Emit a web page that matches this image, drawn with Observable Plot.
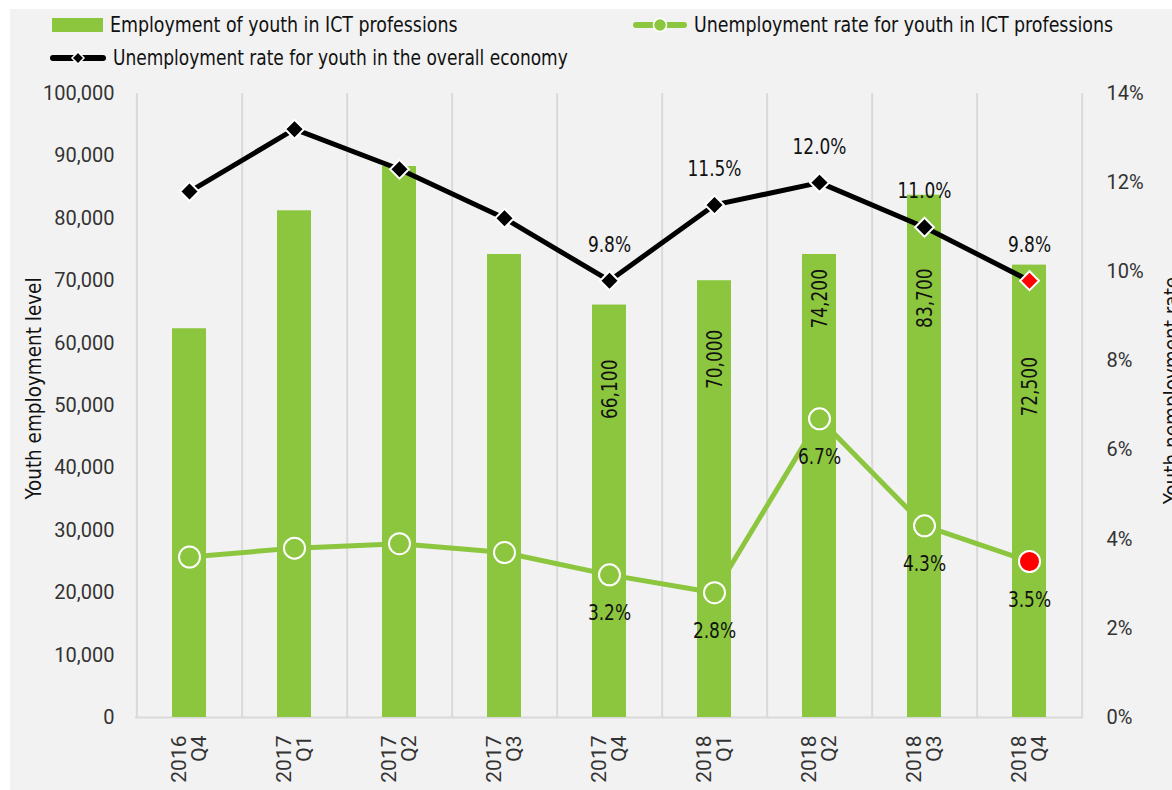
<!DOCTYPE html>
<html><head><meta charset="utf-8">
<script src="https://cdn.jsdelivr.net/npm/d3@7"></script>
<script src="https://cdn.jsdelivr.net/npm/@observablehq/plot@0.6"></script>
<style>
body{margin:0;background:#fff;}
#panel{position:absolute;left:10px;top:9px;width:1162px;height:781px;background:#f2f2f2;overflow:hidden;}
.leg{position:absolute;height:30px;line-height:30px;font-family:"Liberation Sans Narrow","Arial Narrow","DejaVu Sans Condensed",sans-serif;font-size:22px;color:#111;display:flex;align-items:center;white-space:nowrap;}
.leg svg{display:block;margin-right:7px;}
.leg span{display:inline-block;transform:scaleX(0.88);transform-origin:0 50%;}
.leg span.n{transform:scaleX(0.86);}
#chart{position:absolute;left:0;top:75px;}
</style></head><body>
<div id="panel">
  <div class="leg" style="left:42px;top:1px"><svg width="51" height="14"><rect width="51" height="14" fill="#8cc63f"/></svg><span>Employment of youth in ICT professions</span></div>
  <div class="leg" style="left:623px;top:1px"><svg width="54" height="20"><line x1="3" x2="51" y1="10" y2="10" stroke="#8cc63f" stroke-width="6" stroke-linecap="round"/><circle cx="27" cy="10" r="6.5" fill="#8cc63f" stroke="#fff" stroke-width="1.5"/></svg><span>Unemployment rate for youth in ICT professions</span></div>
  <div class="leg" style="left:40px;top:34px"><svg width="56" height="20"><line x1="3" x2="53" y1="10" y2="10" stroke="#000" stroke-width="6" stroke-linecap="round"/><path d="M28,4 L34,10 L28,16 L22,10 Z" fill="#000" stroke="#fff" stroke-width="1.5"/></svg><span class="n">Unemployment rate for youth in the overall economy</span></div>
  <div id="chart"></div>
</div>
<script>
const categories = ["2016 Q4","2017 Q1","2017 Q2","2017 Q3","2017 Q4","2018 Q1","2018 Q2","2018 Q3","2018 Q4"];
const employment = [62300, 81200, 88300, 74200, 66100, 70000, 74200, 83700, 72500];
const ictRate = [3.6, 3.8, 3.9, 3.7, 3.2, 2.8, 6.7, 4.3, 3.5];
const overallRate = [11.8, 13.2, 12.3, 11.2, 9.8, 11.5, 12.0, 11.0, 9.8];
const leftTicks = [0,10000,20000,30000,40000,50000,60000,70000,80000,90000,100000];
const rightTicks = [0,2,4,6,8,10,12,14];
const labelledFrom = 4;

const GREEN = "#8cc63f", RED = "#ff0000", GRID = "#d9d9d9";
const NARROW = "'Liberation Sans Narrow','Arial Narrow','DejaVu Sans Condensed',sans-serif";
const W = 1162, H = 706, mL = 125, mR = 89, mT = 9, mB = 73;
const k = 100000 / 14; // rate -> left axis units
const step = (W - mL - mR) / categories.length;
const last = categories.length - 1;

const rows = categories.map((c, i) => ({
  cat: c, emp: employment[i], ict: ictRate[i], ov: overallRate[i], i
}));
const labelled = rows.filter(d => d.i >= labelledFrom);
// vertical placement of the in-bar labels (left-axis units), as in the original
const barLabelAt = {"2017 Q4": 52600, "2018 Q1": 57400, "2018 Q2": 67100, "2018 Q3": 67200, "2018 Q4": 53000};

const narrow = {fontFamily: NARROW, fontSize: 22, fill: "#111"};

const chart = Plot.plot({
  width: W, height: H,
  marginLeft: mL, marginRight: mR, marginTop: mT, marginBottom: mB,
  style: {background: "transparent", fontFamily: "Roboto, sans-serif", fontSize: "20px", color: "#333", overflow: "visible"},
  x: {domain: categories, paddingInner: 0.68, paddingOuter: 0.34, axis: null},
  y: {domain: [0, 100000], axis: null},
  color: {type: "identity"},
  marks: [
    Plot.ruleX([categories[0]], {x: d => d, dx: -step / 2, stroke: GRID, strokeWidth: 2}),
    Plot.ruleX(categories, {x: d => d, dx: step / 2, stroke: GRID, strokeWidth: 2}),
    Plot.ruleY([0], {stroke: GRID, strokeWidth: 2}),
    Plot.barY(rows, {x: "cat", y: "emp", fill: GREEN}),
    Plot.text(labelled, {x: "cat", y: d => barLabelAt[d.cat], text: d => d3.format(",")(d.emp), rotate: -90, ...narrow}),
    Plot.line(rows, {x: "cat", y: d => d.ov * k, stroke: "#000", strokeWidth: 5}),
    Plot.dot(rows, {x: "cat", y: d => d.ov * k, symbol: "diamond2", r: 8.5,
      fill: d => d.i === last ? RED : "#000", stroke: "#fff", strokeWidth: 2}),
    Plot.line(rows, {x: "cat", y: d => d.ict * k, stroke: GREEN, strokeWidth: 5}),
    Plot.dot(rows, {x: "cat", y: d => d.ict * k, r: 10.5,
      fill: d => d.i === last ? RED : GREEN, stroke: "#fff", strokeWidth: 2}),
    Plot.text(labelled, {x: "cat", y: d => d.ov * k, dy: -36, text: d => d.ov.toFixed(1) + "%", rotate: 0, ...narrow}),
    Plot.text(labelled, {x: "cat", y: d => d.ict * k, dy: 38, text: d => d.ict.toFixed(1) + "%", rotate: 0, ...narrow}),
    Plot.axisY(leftTicks, {anchor: "left", label: null, tickSize: 0, tickPadding: 21, tickFormat: d3.format(","), fontSize: 20}),
    Plot.axisY(rightTicks.map(v => v * k), {anchor: "right", label: null, tickSize: 0, tickPadding: 23,
      tickFormat: d => Math.round(d / k) + "%", fontSize: 20}),
    Plot.text(categories, {x: d => d, frameAnchor: "bottom", dy: 18, rotate: -90, textAnchor: "end",
      lineAnchor: "middle", lineHeight: 0.95, text: d => d.replace(" ", "\n"), fontSize: 21, fill: "#333"}),
    Plot.text(["Youth employment level"], {frameAnchor: "left", dx: -102, dy: -17, rotate: -90, textAnchor: "middle",
      text: d => d, ...narrow}),
    Plot.text(["Youth nemployment rate"], {frameAnchor: "right", dx: 88, dy: -15, rotate: -90, textAnchor: "middle",
      text: d => d, ...narrow})
  ]
});

// condense the narrow-font texts (no Arial Narrow available offline)
chart.querySelectorAll("g[font-family] text").forEach(t => {
  const g = t.closest("g[font-family]");
  if (!g.getAttribute("font-family").includes("Narrow")) return;
  const s = /^Youth/.test(t.textContent) ? 0.93 : 0.86;
  let tr = t.getAttribute("transform");
  if (!tr) {
    const x = +(t.getAttribute("x") || 0), y = +(t.getAttribute("y") || 0);
    t.setAttribute("x", 0); t.setAttribute("y", 0);
    tr = `translate(${x},${y})`;
  }
  t.setAttribute("transform", `${tr} scale(${s},1)`);
});
document.getElementById("chart").appendChild(chart);
</script>
</body></html>
